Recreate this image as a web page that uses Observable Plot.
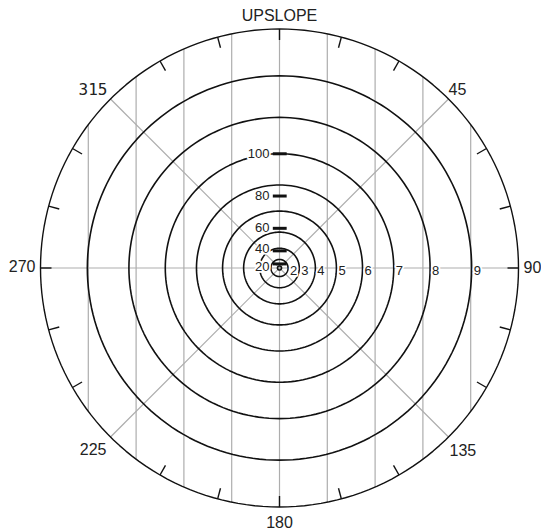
<!DOCTYPE html>
<html>
<head>
<meta charset="utf-8">
<script src="https://cdn.jsdelivr.net/npm/d3@7"></script>
<script src="https://cdn.jsdelivr.net/npm/@observablehq/plot@0.6"></script>
<style>
  html, body { margin: 0; padding: 0; background: white; }
  #chart svg { display: block; }
</style>
</head>
<body>
<div id="chart"></div>
<script>
// ---- data ----
const rings = [1, 2, 3, 4, 5, 6, 7, 8, 9];          // inner rings (radial value)
const outerRing = [10];                                // outer frame ring
const ringLabels = [2, 3, 4, 5, 6, 7, 8, 9];           // labels along the 90° axis
const dashValues = [20, 40, 60, 80, 100];              // values marked on the 0° axis
const dashToRing = 0.07;                               // 100 ↔ ring 7
const gridX = [-0.8, -0.6, -0.4, -0.2, 0, 0.2, 0.4, 0.6, 0.8]; // vertical grid, fraction of radius
const diagonalAngles = [45, 135];
const tickAngles = [0, 15, 30, 60, 75, 90, 105, 120, 150, 165, 180, 195, 210, 240, 255, 270, 285, 300, 330, 345];
const angleLabels = [
  {angle: 0, text: "UPSLOPE"},
  {angle: 45, text: "45"},
  {angle: 90, text: "90"},
  {angle: 135, text: "135"},
  {angle: 180, text: "180"},
  {angle: 225, text: "225"},
  {angle: 270, text: "270"},
  {angle: 315, text: "315"}
];

// radial transform: ring value -> fraction of outer radius
const EXP = 2.07;
const rad = k => Math.pow(k / 10, EXP);
const toRad = a => a * Math.PI / 180;

const ringPts = ks => ks.flatMap(k => d3.range(0, 361, 2).map(a => ({k, a})));
const px = d => rad(d.k) * Math.sin(toRad(d.a));
const py = d => rad(d.k) * Math.cos(toRad(d.a));

const W = 541, H = 531, CX = 279, CY = 267.5, R = 239;

const halo = {stroke: "white", strokeWidth: 3.5, paintOrder: "stroke"};
const ink = "#222";

function angleLabel(text, opts) {
  const d = angleLabels.filter(l => l.text === text);
  return Plot.text(d, {
    x: l => Math.sin(toRad(l.angle)),
    y: l => Math.cos(toRad(l.angle)),
    text: "text",
    fill: ink,
    fontSize: 16,
    ...opts
  });
}

function dashLabel(values, dy) {
  return Plot.text(values, {
    x: () => 0, y: v => rad(v * dashToRing), text: v => String(v),
    textAnchor: "end", dx: -10, dy, fontSize: 13, fill: ink, ...halo
  });
}

const chart = Plot.plot({
  width: W,
  height: H,
  margin: 0,
  style: {background: "white", fontFamily: "'Liberation Sans', Arial, sans-serif"},
  x: {domain: [-CX / R, (W - CX) / R], axis: null},
  y: {domain: [-(H - CY) / R, CY / R], axis: null},
  marks: [
    // gray vertical grid clipped to outer circle
    Plot.link(gridX, {
      x1: d => d, x2: d => d,
      y1: d => -Math.sqrt(1 - d * d), y2: d => Math.sqrt(1 - d * d),
      stroke: "#adadad", strokeWidth: 1.2
    }),
    // horizontal axis
    Plot.link([0], {x1: () => -1, x2: () => 1, y1: () => 0, y2: () => 0, stroke: "#adadad", strokeWidth: 1.2}),
    // diagonals
    Plot.link(diagonalAngles, {
      x1: a => Math.sin(toRad(a)), y1: a => Math.cos(toRad(a)),
      x2: a => -Math.sin(toRad(a)), y2: a => -Math.cos(toRad(a)),
      stroke: "#adadad", strokeWidth: 1.2
    }),
    // rings
    Plot.line(ringPts(rings), {x: px, y: py, z: "k", stroke: "#111", strokeWidth: 1.6}),
    Plot.line(ringPts(outerRing), {x: px, y: py, z: "k", stroke: "#111", strokeWidth: 1.4}),
    // ticks on the outer ring
    Plot.link(tickAngles, {
      x1: a => Math.sin(toRad(a)), y1: a => Math.cos(toRad(a)),
      x2: a => 0.954 * Math.sin(toRad(a)), y2: a => 0.954 * Math.cos(toRad(a)),
      stroke: "#111", strokeWidth: 1.4
    }),
    // labels on the vertical axis (with halo)
    dashLabel(dashValues.filter(v => v >= 60), 0),
    dashLabel(dashValues.filter(v => v === 40), -2),
    dashLabel(dashValues.filter(v => v === 20), 2.5),
    // dashes
    Plot.link(dashValues, {
      x1: () => -0.028, x2: () => 0.03,
      y1: v => rad(v * dashToRing), y2: v => rad(v * dashToRing),
      stroke: "#111", strokeWidth: 3
    }),
    // ring labels along the horizontal axis
    Plot.text(ringLabels, {
      x: k => rad(k), y: () => 0, text: k => String(k),
      textAnchor: "start", dx: 2, dy: 3, fontSize: 13, fill: ink, ...halo
    }),
    // angle labels
    angleLabel("UPSLOPE", {textAnchor: "middle", dy: -13}),
    angleLabel("45", {textAnchor: "start", dx: 0, dy: -9}),
    angleLabel("90", {textAnchor: "start", dx: 5, dy: 0}),
    angleLabel("135", {textAnchor: "start", dx: 1, dy: 14}),
    angleLabel("180", {textAnchor: "middle", dy: 16}),
    angleLabel("225", {textAnchor: "end", dx: -4, dy: 13}),
    angleLabel("270", {textAnchor: "end", dx: -5, dy: -1}),
    angleLabel("315", {textAnchor: "end", dx: -3, dy: -9, fontFamily: "'DejaVu Sans Mono', monospace"})
  ]
});

document.getElementById("chart").appendChild(chart);
</script>
</body>
</html>
